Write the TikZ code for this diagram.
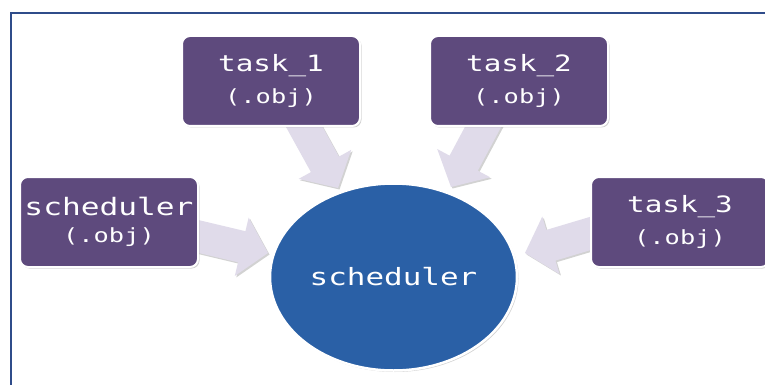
\documentclass[tikz,border=0pt]{standalone}
\usepackage{fontspec}
\newfontfamily\monofont{DejaVu Sans Mono}
\usetikzlibrary{calc,shadows,shapes.geometric}

\definecolor{boxpurple}{RGB}{94,74,125}
\definecolor{hubblue}{RGB}{42,96,166}
\definecolor{arrowlilac}{RGB}{224,219,234}
\definecolor{frameblue}{RGB}{47,76,138}

% horizontally widened lettering
\newcommand{\wide}[1]{\scalebox{1.3}[1]{#1}}

\tikzset{
  softshadow/.style={drop shadow={opacity=0.35, shadow xshift=1.5pt, shadow yshift=-1.5pt}},
  objbox/.style={rectangle, rounded corners=8pt, fill=boxpurple, draw=white,
    line width=2pt, minimum width=178pt, minimum height=90pt, inner sep=0pt,
    text=white, align=center, font=\monofont, softshadow},
  hub/.style={ellipse, fill=hubblue, draw=white, line width=2.5pt,
    minimum width=247pt, minimum height=187pt, inner sep=0pt,
    text=white, font=\monofont, softshadow},
  arrowbody/.style={fill=arrowlilac, softshadow},
}

% block arrow from coordinate #1 to tip #2
\newcommand{\blockarrow}[2]{%
  \path ($(#2)!27pt!(#1)$) coordinate (#1-base);
  \path[arrowbody] ($(#1)!16pt!90:(#2)$) -- ($(#1-base)!16pt!90:(#2)$)
    -- ($(#1-base)!30pt!90:(#2)$) -- (#2)
    -- ($(#1-base)!30pt!-90:(#2)$) -- ($(#1-base)!16pt!-90:(#2)$)
    -- ($(#1)!16pt!-90:(#2)$) -- cycle;
}

\newcommand{\boxtext}[3]{\fontsize{#3}{26}\selectfont\wide{#1}\\[11pt]\fontsize{19.5}{22}\selectfont\wide{#2}}

\begin{document}
\begin{tikzpicture}[x=1pt, y=-1pt]
  \useasboundingbox (0,0) rectangle (765,385);
  \fill[white] (0,0) rectangle (765,385);

  % frame lines
  \draw[frameblue, line width=1.3pt] (11,385) -- (11,13) -- (765,13);

  % arrow ends
  \coordinate (a1s) at (296,112);
  \coordinate (a1t) at (338,188);
  \coordinate (a2s) at (491,112);
  \coordinate (a2t) at (451,187);
  \coordinate (a0s) at (188,234);
  \coordinate (a0t) at (268,253);
  \coordinate (a3s) at (602,230);
  \coordinate (a3t) at (525,253);

  \blockarrow{a1s}{a1t}
  \blockarrow{a2s}{a2t}
  \blockarrow{a0s}{a0t}
  \blockarrow{a3s}{a3t}

  % object files
  \node[objbox] (task1) at (271,81) {\boxtext{task\_1}{(.obj)}{22.5}};
  \node[objbox] (task2) at (519,81) {\boxtext{task\_2}{(.obj)}{22.5}};
  \node[objbox] (schedobj) at (109,222) {\boxtext{scheduler}{(.obj)}{24}};
  \node[objbox] (task3) at (680,222) {\boxtext{task\_3}{(.obj)}{22.5}};

  % linked result
  \node[hub] (sched) at (393.5,277) {\fontsize{23.8}{26}\selectfont\wide{scheduler}};
\end{tikzpicture}
\end{document}
